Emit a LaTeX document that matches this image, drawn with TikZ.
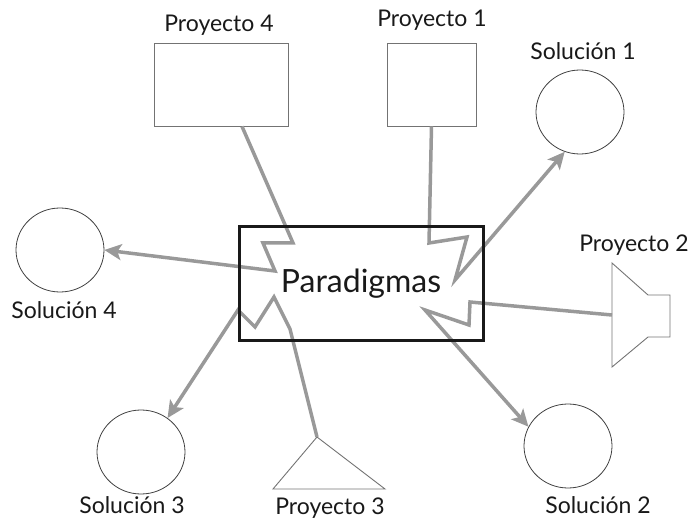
\documentclass[tikz,border=0pt]{standalone}
\usepackage{fontspec}
\setmainfont{Lato}
\usetikzlibrary{arrows.meta}
\usetikzlibrary{shapes.geometric}

\begin{document}
\begin{tikzpicture}[x=1pt,y=-1pt,
  lbl/.style={anchor=base, font=\fontsize{23}{27}\selectfont, text=black!90},
  sol/.style={draw=black!75, line width=.8pt, ellipse, minimum width=88pt, minimum height=84pt, inner sep=0},
  proj/.style={draw=black!55, line width=.9pt, inner sep=0},
  link/.style={draw=black!40, line width=3.5pt, -{Stealth[length=17pt,width=16pt,inset=4pt]}}]
\useasboundingbox (0,0) rectangle (699,521);

% proyectos y soluciones
\node[proj, minimum width=134pt, minimum height=83pt] (p4) at (221,84.5) {};
\node[proj, minimum width=89pt, minimum height=83pt] (p1) at (431.5,84.5) {};
\node[sol] (s1) at (580,112) {};
\node[sol] (s4) at (60,250) {};
\node[sol] (s3) at (141,452) {};
\node[sol] (s2) at (568,446) {};
\coordinate (p2) at (612,315);
\draw[proj, line join=miter] (612,263) -- (648,295) -- (670,295) -- (670,337) -- (648,337) -- (612,367) -- cycle;
\coordinate (p3) at (317,437);
\draw[proj] (p3) -- (385,489) -- (273,489) -- cycle;

% quiebres
\coordinate (a1) at (293,243);
\coordinate (a2) at (263,243);
\coordinate (a3) at (275,271);
\coordinate (b1) at (429,243);
\coordinate (b2) at (467,237);
\coordinate (b3) at (455,280);
\coordinate (c1) at (470,302);
\coordinate (c2) at (469,325);
\coordinate (c3) at (425,310);
\coordinate (d1) at (290,329);
\coordinate (d2) at (274,297);
\coordinate (d3) at (255,327);
\coordinate (d4) at (238,310);

\draw[link] ([xshift=21pt]p4.south) -- (a1) -- (a2) -- (a3) -- (s4.east);
\draw[link] (p1.south) -- (b1) -- (b2) -- (b3) -- (s1.249);
\draw[link] (p2) -- (c1) -- (c2) -- (c3) -- (s2.154);
\draw[link] (p3) -- (d1) -- (d2) -- (d3) -- (d4) -- (s3.52);

\node[draw=black!90, line width=3pt, minimum width=244pt, minimum height=114pt,
  font=\fontsize{32}{38}\selectfont, text=black!90] (par) at (361,284) {Paradigmas};

% etiquetas
\node[lbl] (p4l) at (219,32) {Proyecto 4};
\node[lbl] (p1l) at (432,27) {Proyecto 1};
\node[lbl] (s1l) at (583,60) {Solución 1};
\node[lbl] (s4l) at (64,319) {Solución 4};
\node[lbl] (p2l) at (634,252) {Proyecto 2};
\node[lbl] (s3l) at (132,513) {Solución 3};
\node[lbl] (p3l) at (330,514) {Proyecto 3};
\node[lbl] (s2l) at (598,513) {Solución 2};
\end{tikzpicture}
\end{document}
